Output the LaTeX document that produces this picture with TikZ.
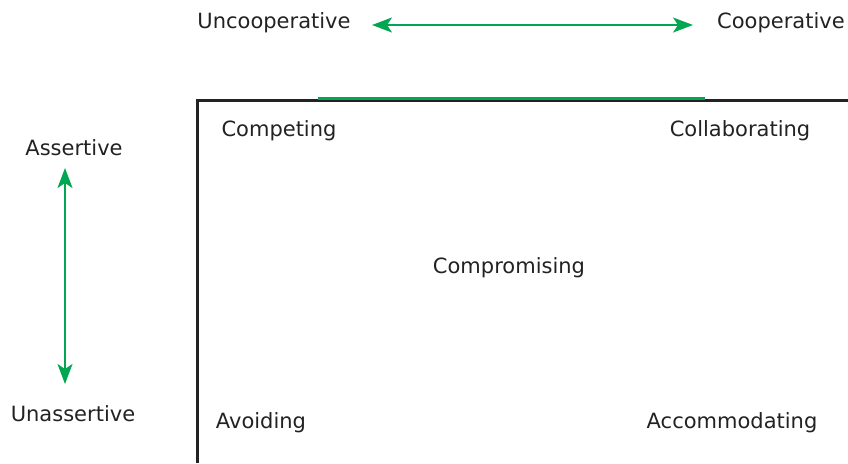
\documentclass[tikz,border=0pt]{standalone}
\usepackage{fontspec}
\setmainfont{DejaVu Sans}
\usetikzlibrary{arrows.meta}
\definecolor{modegreen}{RGB}{0,166,81}
\definecolor{modetext}{RGB}{34,34,34}

\begin{document}
\begin{tikzpicture}[x=0.5pt, y=-0.5pt, every node/.style={font=\fontsize{10.5}{12.6}\selectfont, text=modetext, inner sep=0pt},
    axisarrow/.style={{Stealth[length=10pt,width=7.5pt,inset=2.5pt]}-{Stealth[length=10pt,width=7.5pt,inset=2.5pt]}, modegreen, line width=1pt}]
  \useasboundingbox (0,0) rectangle (848,463);

  % Achsenbeschriftungen
  \node (uncoop) at (274,23) {Uncooperative};
  \node (coop) at (781,23) {Cooperative};
  \node (assert) at (74,148) {Assertive};
  \node (unassert) at (73,414) {Unassertive};

  % Pfeile
  \coordinate (hleft) at (372,25);
  \coordinate (hright) at (693,25);
  \coordinate (vtop) at (65,168);
  \coordinate (vbottom) at (65,384);
  \draw[axisarrow] (hleft) -- (hright);
  \draw[axisarrow] (vtop) -- (vbottom);

  % Rahmen
  \draw[line width=1.5pt, modetext] (197,463) -- (197,100) -- (848,100);
  \draw[line width=1.5pt, modegreen] (318,98) -- (705,98);

  % Modi
  \node (competing) at (279,131) {Competing};
  \node (collab) at (740,131) {Collaborating};
  \node (comprom) at (509,268) {Compromising};
  \node (avoiding) at (261,423) {Avoiding};
  \node (accomm) at (732,423) {Accommodating};
\end{tikzpicture}
\end{document}
